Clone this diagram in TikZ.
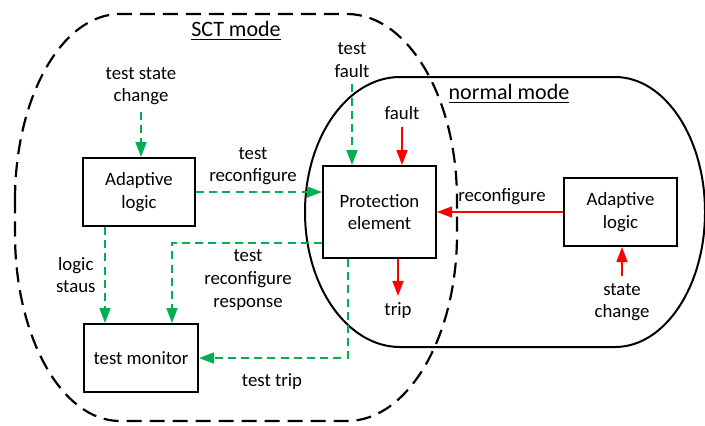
\documentclass[tikz,border=0pt]{standalone}
\usepackage{fontspec}
\setmainfont{Carlito}
\usepackage{tikz}
\usetikzlibrary{arrows.meta, positioning, calc}

\definecolor{flowgreen}{RGB}{0,176,80}

\begin{document}
\begin{tikzpicture}[x=0.5pt, y=-0.5pt, >={Triangle[length=7.5pt, width=5.5pt]},
    font=\fontsize{9.4}{11.3}\selectfont,
    block/.style={draw, line width=1pt, minimum width=56.5pt, minimum height=34pt, align=center, inner sep=2pt},
    lbl/.style={align=center, text=black},
    modename/.style={font=\fontsize{11}{13}\selectfont},
    testflow/.style={->, flowgreen, line width=0.8pt, dash pattern=on 4pt off 2.6pt},
    realflow/.style={->, red, line width=0.8pt}]
				\useasboundingbox (0,0) rectangle (705,425);
				
				% SCT mode region
				\draw[line width=1.1pt, dash pattern=on 7.5pt off 4pt]
				  (15,200) arc[start angle=180, end angle=270, x radius=105, y radius=186]
				  -- (347,14) arc[start angle=270, end angle=360, x radius=110, y radius=186]
				  -- (457,234) arc[start angle=0, end angle=90, x radius=110, y radius=187]
				  -- (120,421) arc[start angle=90, end angle=180, x radius=105, y radius=187]
				  -- cycle;
				
				% normal mode region
				\draw[line width=1pt]
				  (305,212) arc[start angle=180, end angle=270, x radius=95, y radius=135]
				  -- (615,77) arc[start angle=270, end angle=450, x radius=90, y radius=135]
				  -- (400,347) arc[start angle=90, end angle=180, x radius=95, y radius=135];
				
				\node[modename] (sct) at (236,31) {\underline{SCT mode}};
				\node[modename] (normal) at (509,94) {\underline{normal mode}};
				
				\node[block, minimum width=56pt] (logicL) at (139,192) {Adaptive\\logic};
				\node[block, minimum height=46pt] (prot) at (379.5,212) {Protection\\element};
				\node[block] (logicR) at (620.5,212) {Adaptive\\logic};
				\node[block, minimum width=57pt] (monitor) at (141,358) {test monitor};
				
				\node[lbl] (tsc) at (141,86) {test state\\change};
				\node[lbl] (tf) at (352,60) {test\\fault};
				\node[lbl] (fault) at (402,113) {fault};
				\node[lbl] (sc) at (622,302) {state\\change};
				\node[lbl] (trip) at (398,311) {trip};
				
				\draw[testflow] (tsc.south) -- (tsc.south |- logicL.north);
				\draw[testflow] (logicL.east) -- (prot.west |- logicL.east);
				\node[lbl] (trc) at (253,166) {test\\reconfigure};
				\draw[testflow] (tf.south) -- (tf.south |- prot.north);
				\draw[realflow] (fault.south) -- (fault.south |- prot.north);
				\draw[realflow] (logicR.west) -- (prot.east) node[midway, above, lbl, xshift=1pt] {reconfigure};
				\draw[realflow] (sc.north) -- (sc.north |- logicR.south);
				\draw[realflow] (trip.north |- prot.south) -- (trip.north);
				
				\draw[testflow] ([xshift=-17pt]logicL.south) -- ([xshift=-17pt]logicL.south |- monitor.north) node[midway, left, lbl, xshift=-1pt] {logic\\staus};
				\draw[testflow] ([yshift=-15.5pt]prot.west) -| ([xshift=15.5pt]monitor.north);
				\node[lbl] (trr) at (248,280) {test\\reconfigure\\response};
				\draw[testflow] ([xshift=-15.75pt]prot.south) |- (monitor.east);
				\node[lbl] (tt) at (272,382) {test trip};
			\end{tikzpicture}
\end{document}
